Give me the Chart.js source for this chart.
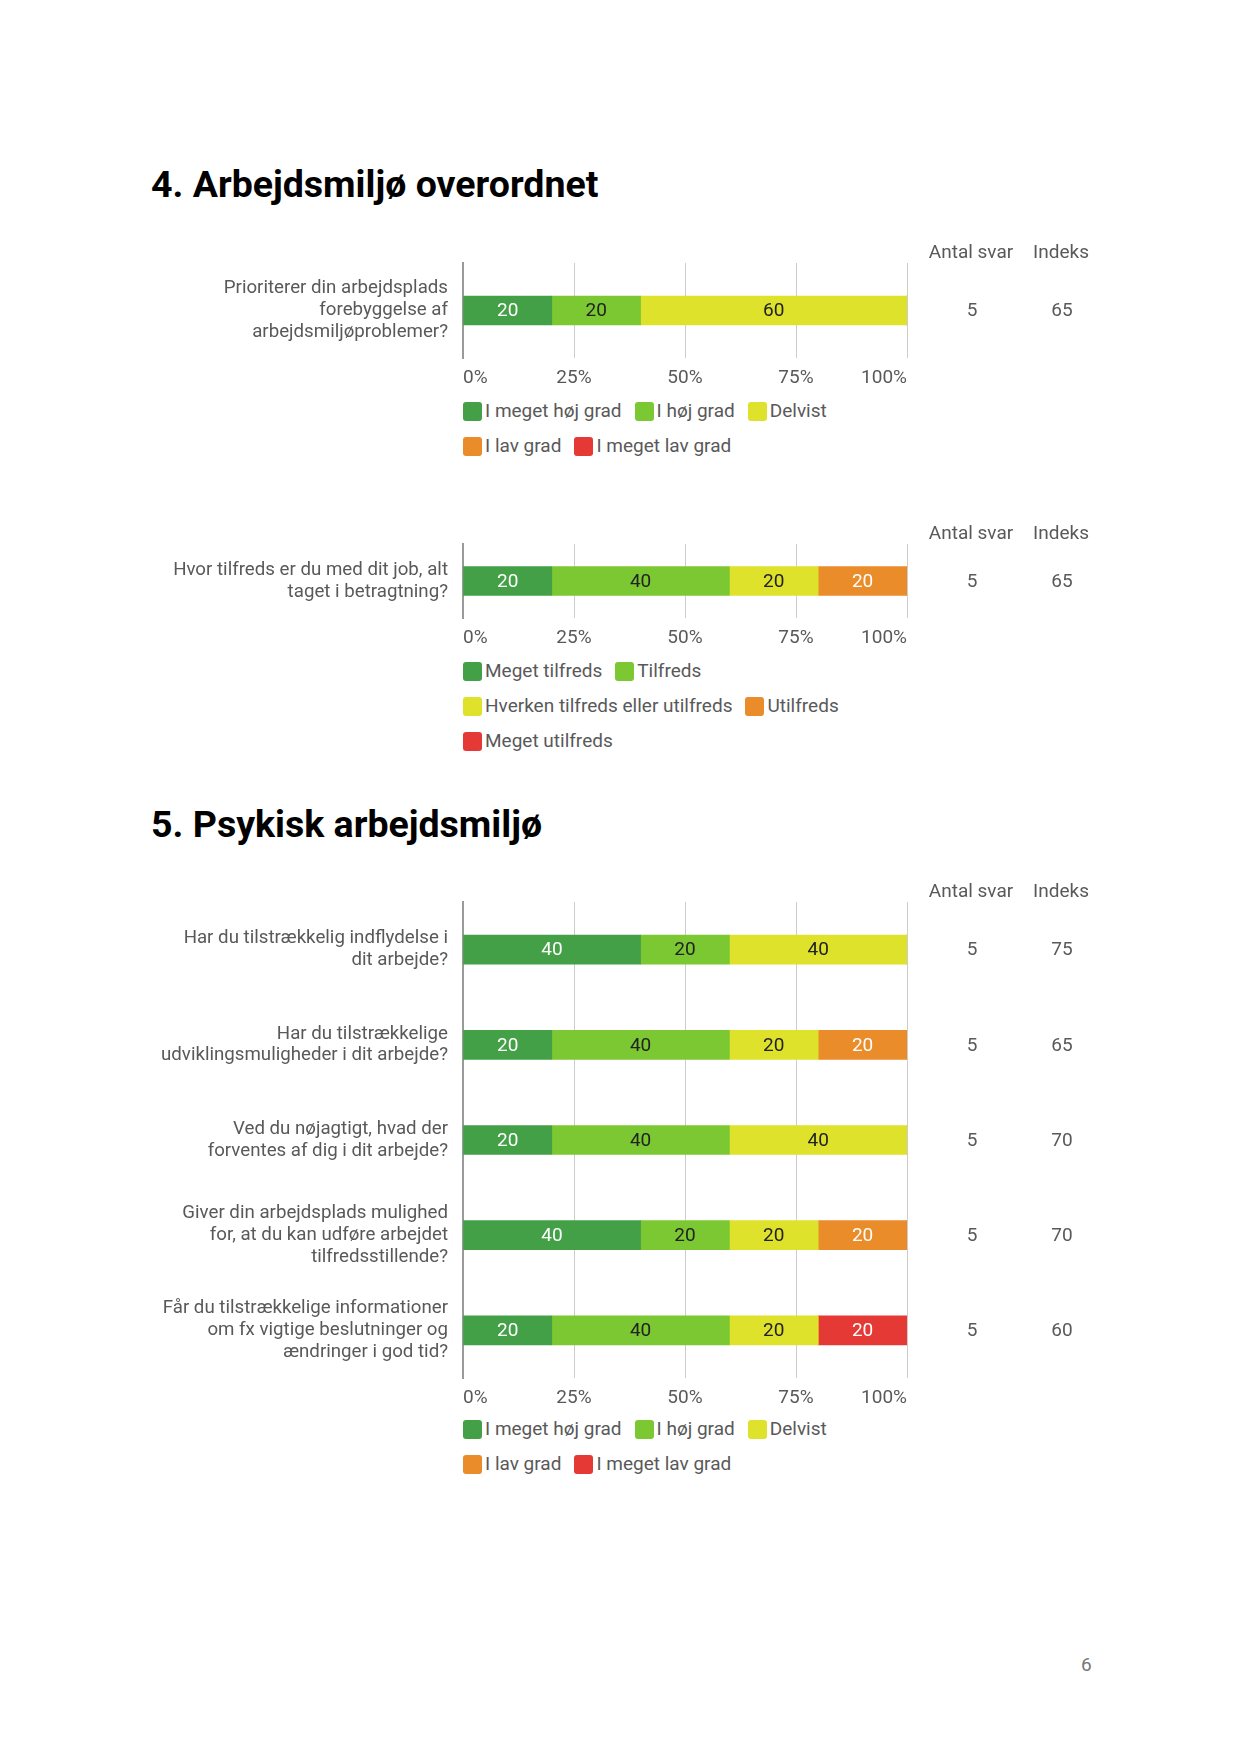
<!DOCTYPE html>
<html lang="da">
<head>
<meta charset="utf-8">
<title>Arbejdsmiljø</title>
<script src="https://cdn.jsdelivr.net/npm/chart.js@4.4.1/dist/chart.umd.min.js"></script>
<style>
  html, body { margin: 0; padding: 0; background: #fff; }
  body { width: 1240px; height: 1755px; position: relative; overflow: hidden; font-family: Roboto, sans-serif; }
  h2 { position: absolute; left: 151px; margin: 0; font-size: 37.5px; line-height: 38px; font-weight: 700; color: #000; }
  canvas { position: absolute; left: 0; }
  .legend { position: absolute; left: 463px; width: 444px; display: flex; flex-wrap: wrap; column-gap: 13px; row-gap: 13px; }
  .legend .item { display: flex; align-items: center; font-size: 19px; line-height: 22px; color: #595959; white-space: nowrap; }
  .legend i { display: inline-block; width: 19px; height: 19px; border-radius: 3px; margin-right: 3px; }
  .page { position: absolute; left: 1081px; top: 1655px; font-size: 19px; line-height: 19px; color: #777; }
</style>
</head>
<body>

<h2 style="top:165px">4. Arbejdsmiljø overordnet</h2>
<canvas id="c1" width="1240" height="169" style="top:223px"></canvas>
<div class="legend" id="l1" style="top:400px"></div>

<canvas id="c2" width="1240" height="148" style="top:504px"></canvas>
<div class="legend" id="l2" style="top:660px"></div>

<h2 style="top:805px">5. Psykisk arbejdsmiljø</h2>
<canvas id="c3" width="1240" height="550" style="top:862px"></canvas>
<div class="legend" id="l3" style="top:1418px"></div>

<div class="page">6</div>

<script>
// svarkategorier
const gradNames = ['I meget høj grad', 'I høj grad', 'Delvist', 'I lav grad', 'I meget lav grad'];
const tilfredsNames = ['Meget tilfreds', 'Tilfreds', 'Hverken tilfreds eller utilfreds', 'Utilfreds', 'Meget utilfreds'];

const COLORS = ['#43a047', '#7cc832', '#dfe22b', '#ea8c2a', '#e53935'];
const TEXT_COLORS = ['#ffffff', '#222222', '#222222', '#ffffff', '#ffffff'];

// 4. spørgsmål 1
const q1Labels = [['Prioriterer din arbejdsplads', 'forebyggelse af', 'arbejdsmiljøproblemer?']];
const q1Values = [[20], [20], [60], [0], [0]];
const q1Antal = [5];
const q1Indeks = [65];

// 4. spørgsmål 2
const q2Labels = [['Hvor tilfreds er du med dit job, alt', 'taget i betragtning?']];
const q2Values = [[20], [40], [20], [20], [0]];
const q2Antal = [5];
const q2Indeks = [65];

// 5. psykisk arbejdsmiljø
const q3Labels = [
  ['Har du tilstrækkelig indflydelse i', 'dit arbejde?'],
  ['Har du tilstrækkelige', 'udviklingsmuligheder i dit arbejde?'],
  ['Ved du nøjagtigt, hvad der', 'forventes af dig i dit arbejde?'],
  ['Giver din arbejdsplads mulighed', 'for, at du kan udføre arbejdet', 'tilfredsstillende?'],
  ['Får du tilstrækkelige informationer', 'om fx vigtige beslutninger og', 'ændringer i god tid?']
];
const q3MegetHoj = [40, 20, 20, 40, 20];
const q3Hoj      = [20, 40, 40, 20, 40];
const q3Delvist  = [40, 20, 40, 20, 20];
const q3Lav      = [0, 20, 0, 20, 0];
const q3MegetLav = [0, 0, 0, 0, 20];
const q3Antal  = [5, 5, 5, 5, 5];
const q3Indeks = [75, 65, 70, 70, 60];

const xTicks = [0, 25, 50, 75, 100];

Chart.defaults.font.family = 'Roboto, sans-serif';

// tal i søjlerne + kolonnerne "Antal svar" og "Indeks"
function sideColumns(antal, indeks) {
  return {
    id: 'sideColumns',
    afterDatasetsDraw(chart) {
      const { ctx, chartArea } = chart;
      const y = chart.scales.y;
      ctx.save();
      ctx.font = '19px Roboto';
      ctx.textAlign = 'center';
      ctx.textBaseline = 'middle';
      chart.data.datasets.forEach((ds, di) => {
        chart.getDatasetMeta(di).data.forEach((bar, i) => {
          const v = ds.data[i];
          if (!v) return;
          ctx.fillStyle = TEXT_COLORS[di];
          ctx.fillText(String(v), (bar.x + bar.base) / 2, bar.y + 1);
        });
      });
      ctx.fillStyle = '#595959';
      ctx.fillText('Antal svar', 971, chartArea.top - 10);
      ctx.fillText('Indeks', 1061, chartArea.top - 10);
      antal.forEach((n, i) => {
        const py = y.getPixelForValue(i) + 1;
        ctx.fillText(String(n), 972, py);
        ctx.fillText(String(indeks[i]), 1062, py);
      });
      ctx.restore();
    }
  };
}

function makeChart(id, legendId, labels, values, names, antal, indeks) {
  const chart = new Chart(document.getElementById(id), {
    type: 'bar',
    data: {
      labels: labels,
      datasets: values.map((d, i) => ({
        label: names[i],
        data: d,
        backgroundColor: COLORS[i],
        barThickness: 29
      }))
    },
    options: {
      indexAxis: 'y',
      responsive: false,
      animation: false,
      devicePixelRatio: 1,
      layout: { padding: { top: 40, right: 333, left: 0, bottom: 0 } },
      plugins: { legend: { display: false }, tooltip: { enabled: false } },
      scales: {
        x: {
          stacked: true,
          min: xTicks[0],
          max: xTicks[xTicks.length - 1],
          border: { display: false },
          grid: { color: '#cccccc', drawTicks: false },
          afterBuildTicks: s => { s.ticks = xTicks.map(v => ({ value: v })); },
          ticks: {
            align: 'inner',
            padding: 9,
            maxRotation: 0,
            color: '#595959',
            font: { size: 19 },
            callback: v => v + '%'
          },
          afterFit: s => { s.height = 34; }
        },
        y: {
          stacked: true,
          grid: { display: false, drawTicks: false },
          border: { color: '#9a9a9a', width: 2 },
          ticks: {
            padding: 15,
            autoSkip: false,
            color: '#595959',
            font: { size: 18.7, lineHeight: 1.17 }
          },
          afterFit: s => { s.width = 463; s.paddingTop = 0; s.paddingBottom = 0; }
        }
      }
    },
    plugins: [sideColumns(antal, indeks)]
  });

  // forklaring under grafen
  const box = document.getElementById(legendId);
  chart.data.datasets.forEach(ds => {
    const item = document.createElement('span');
    item.className = 'item';
    const sw = document.createElement('i');
    sw.style.background = ds.backgroundColor;
    item.appendChild(sw);
    item.appendChild(document.createTextNode(ds.label));
    box.appendChild(item);
  });
  return chart;
}

makeChart('c1', 'l1', q1Labels, q1Values, gradNames, q1Antal, q1Indeks);
makeChart('c2', 'l2', q2Labels, q2Values, tilfredsNames, q2Antal, q2Indeks);
makeChart('c3', 'l3', q3Labels, [q3MegetHoj, q3Hoj, q3Delvist, q3Lav, q3MegetLav], gradNames, q3Antal, q3Indeks);
</script>
</body>
</html>
